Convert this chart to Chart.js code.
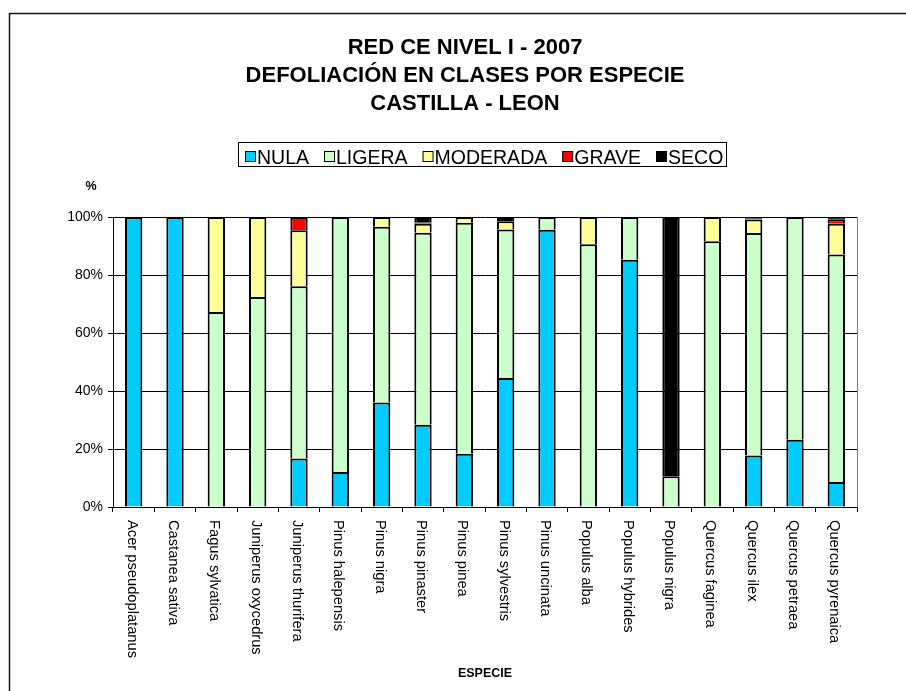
<!DOCTYPE html>
<html>
<head>
<meta charset="utf-8">
<title>Defoliación en clases por especie</title>
<script src="https://cdn.jsdelivr.net/npm/chart.js@4.4.1/dist/chart.umd.min.js"></script>
<style>
  html, body { margin: 0; padding: 0; background: #fff; }
  canvas { display: block; }
</style>
</head>
<body>
<canvas id="defChart" width="906" height="691"></canvas>
<script>
const species = [
    "Acer pseudoplatanus", "Castanea sativa", "Fagus sylvatica", "Juniperus oxycedrus",
    "Juniperus thurifera", "Pinus halepensis", "Pinus nigra", "Pinus pinaster",
    "Pinus pinea", "Pinus sylvestris", "Pinus uncinata", "Populus alba",
    "Populus hybrides", "Populus nigra", "Quercus faginea", "Quercus ilex",
    "Quercus petraea", "Quercus pyrenaica"
];

// % of trees in each defoliation class
const nula     = [100, 100, 0, 0, 16.7, 12.1, 36.0, 28.4, 18.4, 44.5, 95.6, 0, 85.3, 0, 0, 17.8, 23.2, 8.6];
const ligera   = [0, 0, 67.2, 72.4, 59.4, 87.9, 60.6, 66.2, 79.6, 51.2, 4.4, 90.6, 14.7, 10.6, 91.6, 76.7, 76.8, 78.5];
const moderada = [0, 0, 32.8, 27.6, 19.3, 0, 3.4, 3.1, 2.0, 2.8, 0, 9.4, 0, 0, 8.4, 4.6, 0, 10.6];
const grave    = [0, 0, 0, 0, 4.6, 0, 0, 0.3, 0, 0, 0, 0, 0, 0, 0, 0.5, 0, 1.5];
const seco     = [0, 0, 0, 0, 0, 0, 0, 2.0, 0, 1.5, 0, 0, 0, 89.4, 0, 0.4, 0, 0.8];

const classNames = ["NULA", "LIGERA", "MODERADA", "GRAVE", "SECO"];
const classColors = ["#00CCFF", "#CCFFCC", "#FFFF99", "#FF0000", "#000000"];
const yTicks = [0, 20, 40, 60, 80, 100];

const titleLines = ["RED CE NIVEL I - 2007", "DEFOLIACIÓN EN CLASES POR ESPECIE", "CASTILLA - LEON"];

const FONT = "'Liberation Sans', Arial, Helvetica, sans-serif";
Chart.defaults.font.family = FONT;
Chart.defaults.color = "#000";

// title, legend box, frame, rotated category labels
const decorations = {
    id: "decorations",
    beforeDraw(chart) {
        const ctx = chart.ctx;
        ctx.save();
        ctx.fillStyle = "#fff";
        ctx.fillRect(0, 0, chart.width, chart.height);
        ctx.restore();
    },
    afterDraw(chart) {
        const ctx = chart.ctx;
        const area = chart.chartArea;
        const xs = chart.scales.x;
        ctx.save();

        // outer chart frame
        ctx.strokeStyle = "#111";
        ctx.lineWidth = 1.5;
        ctx.strokeRect(9.5, 13.5, 1000, 1000);

        // plot area right edge
        ctx.strokeStyle = "#808080";
        ctx.lineWidth = 1;
        ctx.beginPath();
        ctx.moveTo(Math.round(area.right) + 0.5, area.top);
        ctx.lineTo(Math.round(area.right) + 0.5, area.bottom);
        ctx.stroke();

        // title
        ctx.fillStyle = "#000";
        ctx.font = "bold 22px " + FONT;
        ctx.textAlign = "center";
        ctx.textBaseline = "alphabetic";
        titleLines.forEach((t, i) => ctx.fillText(t, 465, 54 + i * 28));

        // legend
        ctx.font = "19.5px " + FONT;
        ctx.textAlign = "left";
        ctx.strokeStyle = "#000";
        ctx.lineWidth = 1;
        ctx.strokeRect(238.5, 142.5, 488, 24);
        let lx = 245;
        classNames.forEach((name, i) => {
            ctx.fillStyle = classColors[i];
            ctx.fillRect(lx, 151, 10, 10);
            ctx.strokeRect(lx + 0.5, 151.5, 10, 10);
            ctx.fillStyle = "#000";
            ctx.fillText(name, lx + 12, 164);
            lx += 12 + ctx.measureText(name).width + 15;
        });

        // axis titles
        ctx.font = "bold 12.5px " + FONT;
        ctx.textAlign = "center";
        ctx.fillText("%", 91, 190);
        ctx.fillText("ESPECIE", (area.left + area.right) / 2, 677);

        // category labels, reading top to bottom
        ctx.font = "14.7px " + FONT;
        ctx.textAlign = "left";
        ctx.textBaseline = "middle";
        species.forEach((s, i) => {
            const px = xs.getPixelForValue(i);
            ctx.save();
            ctx.translate(px - 2, area.bottom + 13);
            ctx.rotate(Math.PI / 2);
            ctx.fillText(s, 0, 0);
            ctx.restore();
        });

        ctx.restore();
    }
};

document.addEventListener("DOMContentLoaded", () => {
    const series = [nula, ligera, moderada, grave, seco];

    new Chart(document.getElementById("defChart"), {
        type: "bar",
        data: {
            labels: species,
            datasets: series.map((data, i) => ({
                label: classNames[i],
                data: data,
                backgroundColor: classColors[i],
                borderColor: "#000",
                borderWidth: 2,
                barPercentage: 0.42,
                categoryPercentage: 1
            }))
        },
        options: {
            responsive: false,
            animation: false,
            layout: { padding: { top: 217, left: 63, right: 49, bottom: 0 } },
            plugins: {
                legend: { display: false },
                title: { display: false },
                tooltip: { enabled: false }
            },
            scales: {
                x: {
                    stacked: true,
                    afterFit: s => { s.height = 184; },
                    ticks: { display: false },
                    grid: {
                        offset: true,
                        drawOnChartArea: false,
                        drawTicks: true,
                        tickLength: 5,
                        color: "#000"
                    },
                    border: { display: true, color: "#000", width: 1 }
                },
                y: {
                    stacked: true,
                    min: 0,
                    max: 100,
                    afterFit: s => { s.width = 50; },
                    afterBuildTicks: s => { s.ticks = yTicks.map(v => ({ value: v })); },
                    ticks: {
                        padding: 5,
                        font: { size: 14 },
                        color: "#000",
                        callback: v => v + "%"
                    },
                    grid: { color: "#000", lineWidth: 1, tickLength: 5 },
                    border: { display: true, color: "#000", width: 1 }
                }
            }
        },
        plugins: [decorations]
    });
});
</script>
</body>
</html>
